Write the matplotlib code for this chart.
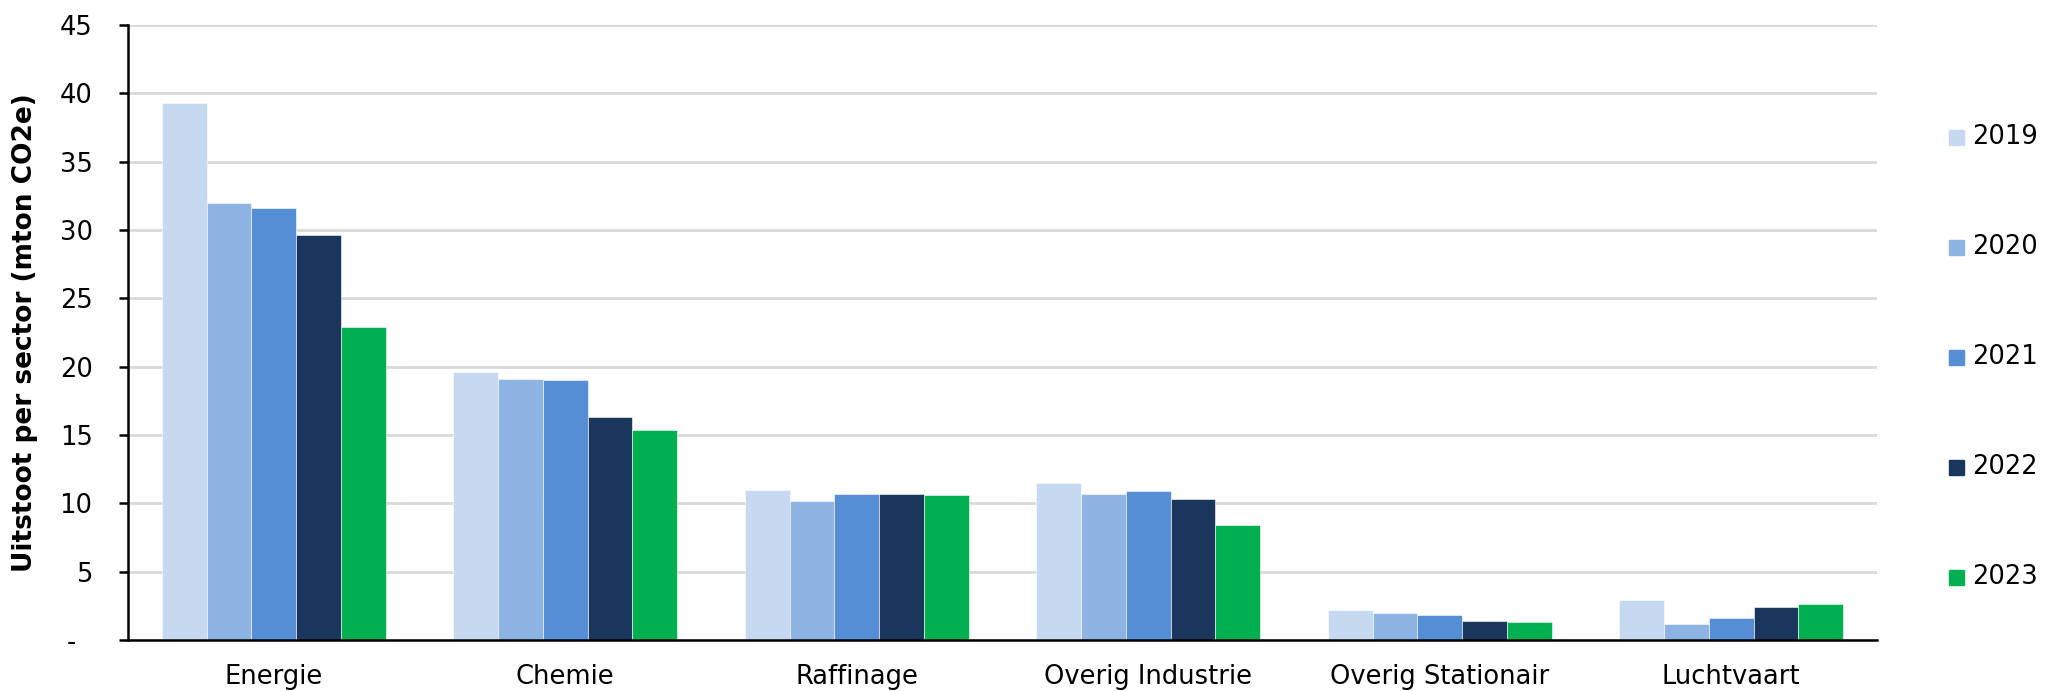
import matplotlib
matplotlib.use("Agg")
import matplotlib.pyplot as plt
from matplotlib.patches import Rectangle
import numpy as np

sectors = ["Energie", "Chemie", "Raffinage", "Overig Industrie", "Overig Stationair", "Luchtvaart"]
years = ["2019", "2020", "2021", "2022", "2023"]
v2019 = [39.3, 19.6, 11.0, 11.5, 2.2, 2.9]
v2020 = [32.0, 19.1, 10.2, 10.7, 2.0, 1.2]
v2021 = [31.6, 19.0, 10.7, 10.9, 1.8, 1.6]
v2022 = [29.6, 16.3, 10.7, 10.3, 1.4, 2.4]
v2023 = [22.9, 15.4, 10.6, 8.4, 1.3, 2.6]
series = [v2019, v2020, v2021, v2022, v2023]
colors = ["#c6d9f0", "#8eb4e3", "#558ed5", "#1a365d", "#00b050"]
yticks = [0, 5, 10, 15, 20, 25, 30, 35, 40, 45]
ytick_labels = ["-  ", "5", "10", "15", "20", "25", "30", "35", "40", "45"]

W, H = 2047, 691
fig = plt.figure(figsize=(W / 100, H / 100), dpi=100)
ax = fig.add_axes([128 / W, (H - 640) / H, (1877 - 128) / W, (640 - 25) / H])

fs = 18.5
x = np.arange(len(sectors))
bw = 0.768 / len(series)
for i, (vals, c) in enumerate(zip(series, colors)):
    ax.bar(x + (i - 2) * bw, vals, width=bw, color=c, edgecolor="white",
           linewidth=0.4, zorder=3)

ax.set_xlim(-0.5, len(sectors) - 0.5)
ax.set_ylim(0, 45)
ax.set_yticks(yticks)
ax.set_yticklabels(ytick_labels, fontsize=fs)
ax.set_xticks(x)
ax.set_xticklabels(sectors, fontsize=fs)
ax.grid(axis="y", color="#d9d9d9", linewidth=2, zorder=0)
ax.set_axisbelow(True)
for s in ["top", "right"]:
    ax.spines[s].set_visible(False)
for s in ["left", "bottom"]:
    ax.spines[s].set_linewidth(1.8)
    ax.spines[s].set_color("black")
    ax.spines[s].set_zorder(5)
ax.tick_params(axis="y", length=6.5, width=1.8, pad=19, colors="black")
ax.tick_params(axis="x", length=0, pad=17)
ax.set_ylabel("Uitstoot per sector (mton CO2e)", fontsize=19, fontweight="bold")
ax.yaxis.set_label_coords(-0.0515, 0.5)

# legend
ly = [137, 247, 357, 467, 577]
for yr, c, yc in zip(years, colors, ly):
    fig.add_artist(Rectangle((1949 / W, (H - yc - 7.5) / H), 15 / W, 15 / H,
                             transform=fig.transFigure, color=c))
    fig.text(1972 / W, (H - yc) / H, yr, fontsize=fs, va="center", ha="left")

fig.savefig("out.png", dpi=100)
